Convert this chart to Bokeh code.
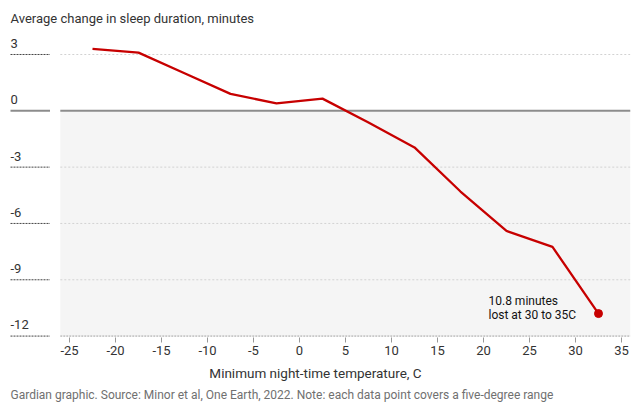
from bokeh.plotting import figure
from bokeh.models import Range1d, FixedTicker, Title, BoxAnnotation
from bokeh.core.properties import value
from bokeh.embed import file_html
from bokeh.resources import INLINE

# ---- data ----
temp_mid = [-22.5, -17.5, -12.5, -7.5, -2.5, 2.5, 7.5, 12.5, 17.5, 22.5, 27.5, 32.5]
sleep_change = [3.3, 3.1, 2.0, 0.9, 0.4, 0.65, -0.62, -1.95, -4.3, -6.4, -7.25, -10.8]
x_ticks = [-25, -20, -15, -10, -5, 0, 5, 10, 15, 20, 25, 30, 35]
x_tick_labels = ["-25", "-20", "-15", "-10", "-5", "0", "5", "10", "15", "20", "25", "30", "35"]
y_ticks = [3, 0, -3, -6, -9, -12]
y_tick_labels = ["3", "0", "-3", "-6", "-9", "-12"]
title_text = "Average change in sleep duration, minutes"
x_label = "Minimum night-time temperature, C"
footer_text = ("Gardian graphic. Source: Minor et al, One Earth, 2022. "
               "Note: each data point covers a five-degree range")
note_line1 = "10.8 minutes"
note_line2 = "lost at 30 to 35C"

# ---- layout ----
W, H = 643, 403
FRAME_W = 630
X0, X1 = -32.5, 35.98
Y0, Y1 = -12.075, 5.876
PLOT_LEFT = -26
PX = (X1 - X0) / FRAME_W  # data units per pixel
FONT = "Roboto"
RED = "#c70000"

p = figure(width=W, height=H, x_range=Range1d(X0, X1), y_range=Range1d(Y0, Y1),
           output_backend="svg", toolbar_location=None, y_axis_location=None,
           min_border_left=0, min_border_right=W - FRAME_W, min_border_top=0,
           min_border_bottom=0, outline_line_color=None,
           background_fill_color="white", border_fill_color="white")
p.xgrid.visible = False
p.ygrid.visible = False

# shaded area below zero
p.add_layout(BoxAnnotation(left=PLOT_LEFT, bottom=-12, top=0, fill_color="#f5f5f5",
                           fill_alpha=1, line_color=None, level="underlay"))

grid_main = [t for t in y_ticks if t not in (0, -12)]
p.segment(x0=[PLOT_LEFT] * len(grid_main), y0=grid_main, x1=[X1] * len(grid_main),
          y1=grid_main, line_color="#d2d2d2", line_width=1, line_dash="2 2")
p.segment(x0=[PLOT_LEFT], y0=[-12], x1=[X1], y1=[-12], line_color="#a0a0a0",
          line_width=1, line_dash="2 1")
stub_ticks = [t for t in y_ticks if t != 0]
p.segment(x0=[X0 + 10 * PX] * len(stub_ticks), y0=stub_ticks,
          x1=[X0 + 49.5 * PX] * len(stub_ticks), y1=stub_ticks,
          line_color="#444444", line_width=1, line_dash="2 1")
# zero line
p.segment(x0=[X0 + 10 * PX, PLOT_LEFT], y0=[0, 0], x1=[X0 + 49.5 * PX, X1], y1=[0, 0],
          line_color="#8c8c8c", line_width=2)

# data line + end point
p.line(temp_mid, sleep_change, line_color=RED, line_width=2.3)
p.scatter([temp_mid[-1]], [sleep_change[-1]], size=8, fill_color=RED, line_color=RED)

# y tick labels above their gridlines
p.text(x=[X0] * len(y_ticks), y=y_ticks, text=y_tick_labels, x_offset=10, y_offset=-11.1,
       text_baseline="alphabetic", text_align="left", text_font=value(FONT),
       text_font_size="13px", text_color="#333333")

# chart title
p.text(x=[X0], y=[Y1], text=[title_text], x_offset=10, y_offset=18.2,
       text_baseline="alphabetic", text_align="left", text_font=value(FONT),
       text_font_size="13px", text_color="#333333")

# annotation near last point (two lines, both left-aligned)
for line_text, dy in ((note_line1, -12.1), (note_line2, 1.7)):
    p.text(x=[temp_mid[-1]], y=[sleep_change[-1]], text=[line_text],
           x_offset=-110, y_offset=dy, text_baseline="alphabetic",
           text_align="left", text_font=value(FONT), text_font_size="12px",
           text_color="#121212")

# x axis
ax = p.xaxis[0]
ax.ticker = FixedTicker(ticks=x_ticks)
ax.major_label_overrides = dict(zip(x_ticks, x_tick_labels))
ax.axis_line_color = None
ax.major_tick_line_color = "#999999"
ax.major_tick_out = 5
ax.major_tick_in = 0
ax.minor_tick_line_color = None
ax.major_label_text_font = FONT
ax.major_label_text_font_size = "13px"
ax.major_label_text_color = "#333333"
ax.major_label_standoff = 3
ax.axis_label = x_label
ax.axis_label_standoff = 7
ax.axis_label_text_font = FONT
ax.axis_label_text_font_size = "13.5px"
ax.axis_label_text_font_style = "normal"
ax.axis_label_text_color = "#333333"

# source line below the axis
footer = Title(text=footer_text, align="left", offset=10, standoff=4,
               text_font=FONT, text_font_size="12px", text_font_style="normal",
               text_color="#707070")
p.add_layout(footer, "below")

open("out.html", "w").write(file_html(p, INLINE))
